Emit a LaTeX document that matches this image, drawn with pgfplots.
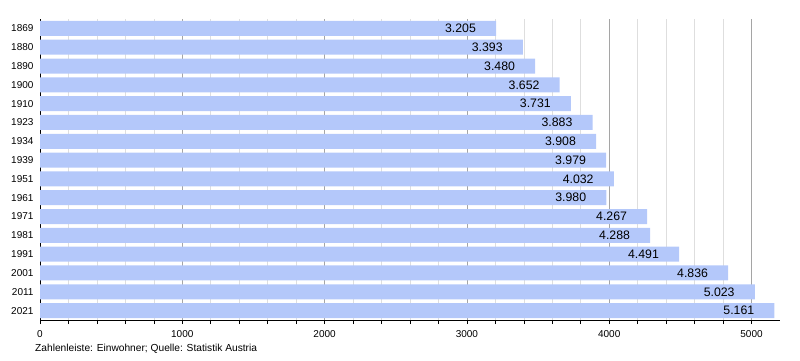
\documentclass[border=0pt]{standalone}
\usepackage{pgfplots}
\pgfplotsset{compat=1.18}
\usepackage{fontspec}
\setmainfont{Liberation Sans}
\definecolor{barblue}{RGB}{180,200,250}
\definecolor{majgrid}{RGB}{165,165,165}
\definecolor{mingrid}{RGB}{222,222,222}
\pgfplotstableread{
idx year value
0 1869 3205
1 1880 3393
2 1890 3480
3 1900 3652
4 1910 3731
5 1923 3883
6 1934 3908
7 1939 3979
8 1951 4032
9 1961 3980
10 1971 4267
11 1981 4288
12 1991 4491
13 2001 4836
14 2011 5023
15 2021 5161
}\datatable
\begin{document}
\begin{tikzpicture}
\useasboundingbox (0pt,0pt) rectangle (800pt,360pt);
\begin{axis}[
  at={(40pt,40pt)}, anchor=south west,
  scale only axis, width=740pt, height=301pt,
  xmin=0, xmax=5200,
  ymin=-0.5, ymax=15.5, y dir=reverse,
  xbar, bar width=15pt,
  axis lines*=left, axis line style={-, black, line width=0.8pt},
  xtick={0,1000,2000,3000,4000,5000},
  minor x tick num=4,
  xmajorgrids, xminorgrids,
  major grid style={majgrid, line width=0.6pt},
  minor grid style={mingrid, line width=0.6pt},
  tick align=outside,
  major tick length=4pt, minor tick length=4pt,
  x tick style={black, line width=0.6pt},
  ytick=data,
  yticklabels from table={\datatable}{year},
  y tick style={draw=none},
  /pgf/number format/.cd, 1000 sep={}, assume math mode=true,
  /pgfplots/.cd,
  xticklabel style={font=\fontsize{10}{12}\selectfont, yshift=-3pt},
  yticklabel style={font=\fontsize{10}{12}\selectfont, xshift=1pt},
  nodes near coords={\pgfmathprintnumber[1000 sep={.},assume math mode=true]{\pgfplotspointmeta}},
  nodes near coords style={anchor=east, xshift=-16.7pt, font=\fontsize{12.3}{14}\selectfont, black},
  clip=false,
]
\addplot[fill=barblue, draw=none] table[x=value, y=idx] {\datatable};
\end{axis}
\node[anchor=west, font=\fontsize{10.2}{12}\selectfont, inner sep=0pt] at (35pt,11pt) {Zahlenleiste: Einwohner; Quelle: Statistik Austria};
\end{tikzpicture}
\end{document}
